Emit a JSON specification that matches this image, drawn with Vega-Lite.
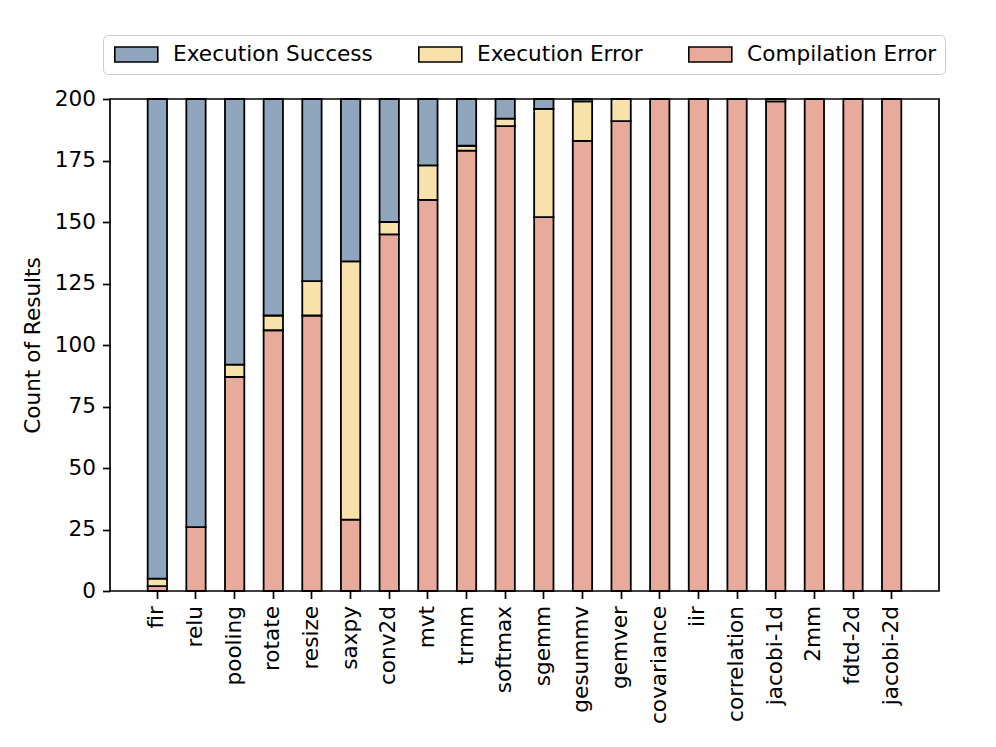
{
  "$schema": "https://vega.github.io/schema/vega-lite/v6.json",
  "autosize": {"type": "none"},
  "padding": {"left": 110, "top": 99, "right": 57, "bottom": 156},
  "width": 829,
  "height": 492,
  "background": "white",
  "data": {
    "values": [
      {"task": "fir", "category": "Compilation Error", "count": 2},
      {"task": "fir", "category": "Execution Error", "count": 3},
      {"task": "fir", "category": "Execution Success", "count": 195},
      {"task": "relu", "category": "Compilation Error", "count": 26},
      {"task": "relu", "category": "Execution Success", "count": 174},
      {"task": "pooling", "category": "Compilation Error", "count": 87},
      {"task": "pooling", "category": "Execution Error", "count": 5},
      {"task": "pooling", "category": "Execution Success", "count": 108},
      {"task": "rotate", "category": "Compilation Error", "count": 106},
      {"task": "rotate", "category": "Execution Error", "count": 6},
      {"task": "rotate", "category": "Execution Success", "count": 88},
      {"task": "resize", "category": "Compilation Error", "count": 112},
      {"task": "resize", "category": "Execution Error", "count": 14},
      {"task": "resize", "category": "Execution Success", "count": 74},
      {"task": "saxpy", "category": "Compilation Error", "count": 29},
      {"task": "saxpy", "category": "Execution Error", "count": 105},
      {"task": "saxpy", "category": "Execution Success", "count": 66},
      {"task": "conv2d", "category": "Compilation Error", "count": 145},
      {"task": "conv2d", "category": "Execution Error", "count": 5},
      {"task": "conv2d", "category": "Execution Success", "count": 50},
      {"task": "mvt", "category": "Compilation Error", "count": 159},
      {"task": "mvt", "category": "Execution Error", "count": 14},
      {"task": "mvt", "category": "Execution Success", "count": 27},
      {"task": "trmm", "category": "Compilation Error", "count": 179},
      {"task": "trmm", "category": "Execution Error", "count": 2},
      {"task": "trmm", "category": "Execution Success", "count": 19},
      {"task": "softmax", "category": "Compilation Error", "count": 189},
      {"task": "softmax", "category": "Execution Error", "count": 3},
      {"task": "softmax", "category": "Execution Success", "count": 8},
      {"task": "sgemm", "category": "Compilation Error", "count": 152},
      {"task": "sgemm", "category": "Execution Error", "count": 44},
      {"task": "sgemm", "category": "Execution Success", "count": 4},
      {"task": "gesummv", "category": "Compilation Error", "count": 183},
      {"task": "gesummv", "category": "Execution Error", "count": 16},
      {"task": "gesummv", "category": "Execution Success", "count": 1},
      {"task": "gemver", "category": "Compilation Error", "count": 191},
      {"task": "gemver", "category": "Execution Error", "count": 9},
      {"task": "covariance", "category": "Compilation Error", "count": 200},
      {"task": "iir", "category": "Compilation Error", "count": 200},
      {"task": "correlation", "category": "Compilation Error", "count": 200},
      {"task": "jacobi-1d", "category": "Compilation Error", "count": 199},
      {"task": "jacobi-1d", "category": "Execution Error", "count": 1},
      {"task": "2mm", "category": "Compilation Error", "count": 200},
      {"task": "fdtd-2d", "category": "Compilation Error", "count": 200},
      {"task": "jacobi-2d", "category": "Compilation Error", "count": 200}
    ]
  },
  "mark": {"type": "bar", "stroke": "black", "strokeWidth": 1.8},
  "encoding": {
    "x": {
      "field": "task",
      "type": "nominal",
      "sort": null,
      "scale": {"paddingInner": 0.5, "paddingOuter": 0.975},
      "axis": {"title": null, "labelAngle": -90}
    },
    "y": {
      "field": "count",
      "type": "quantitative",
      "aggregate": "sum",
      "stack": "zero",
      "scale": {"domain": [0, 200], "nice": false},
      "axis": {"title": "Count of Results", "values": [0, 25, 50, 75, 100, 125, 150, 175, 200], "titlePadding": 10}
    },
    "color": {
      "field": "category",
      "type": "nominal",
      "scale": {
        "domain": ["Execution Success", "Execution Error", "Compilation Error"],
        "range": ["#8fa5bd", "#f9e2aa", "#e8ab9b"]
      },
      "legend": {
        "title": null,
        "orient": "none",
        "direction": "horizontal",
        "legendX": -7,
        "legendY": -64,
        "symbolType": "M-1,-1H4.733V1H-1Z",
        "symbolSize": 225,
        "symbolStrokeColor": "black",
        "symbolStrokeWidth": 1.6,
        "symbolOpacity": 1,
        "labelFontSize": 21.6,
        "labelColor": "black",
        "labelOffset": 40,
        "labelLimit": 500,
        "columnPadding": 42,
        "padding": 8.5,
        "strokeColor": "#cccccc",
        "fillColor": "white",
        "cornerRadius": 5
      }
    },
    "order": {"field": "category", "sort": "ascending"}
  },
  "config": {
    "font": "DejaVu Sans",
    "view": {"stroke": "black", "strokeWidth": 1.7},
    "axis": {
      "domain": false,
      "grid": false,
      "tickColor": "black",
      "tickWidth": 1.7,
      "tickSize": 7.5,
      "labelFontSize": 21.6,
      "labelColor": "black",
      "labelPadding": 7,
      "titleFontSize": 21.6,
      "titleFontWeight": "normal",
      "titleColor": "black"
    }
  }
}
